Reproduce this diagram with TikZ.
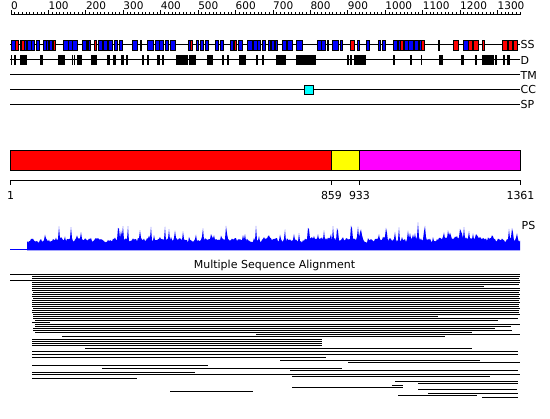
\documentclass[tikz,border=0pt]{standalone}
\usepackage{fontspec}
\setmainfont{DejaVu Sans}
\definecolor{ssblue}{RGB}{0,0,255}
\definecolor{ssred}{RGB}{255,0,0}
\definecolor{psblue}{RGB}{0,0,255}
\definecolor{dyellow}{RGB}{255,255,0}
\definecolor{dmag}{RGB}{255,0,255}
\definecolor{cccyan}{RGB}{0,255,255}
\begin{document}
\begin{tikzpicture}[x=1pt,y=-1pt,
  track/.style={line width=1pt,black},
  ssbox/.style={draw=black,line width=0.8pt},
  dbox/.style={fill=black},
  lbl/.style={font=\fontsize{11}{13}\selectfont,inner sep=0pt},
  num/.style={font=\fontsize{10.5}{12}\selectfont,inner sep=0pt},
  msa/.style={line width=1pt,black},
  seg/.style={draw=black,line width=1pt}]
\useasboundingbox (0,0) rectangle (550,419);
% ruler
\draw[track] (11,15) -- (520.5,15);
\foreach \i in {0,...,136}{
  \pgfmathsetmacro{\xx}{11+0.3742*10*\i}
  \draw[line width=0.8pt] (\xx,15) -- (\xx,12);
}
\foreach \n in {0,100,...,1300}{
  \pgfmathsetmacro{\xx}{11+0.3742*\n}
  \draw[line width=0.8pt] (\xx,15) -- (\xx,10);
  \node[num,anchor=base west] (r\n) at (\xx,9.5) {\n};
}
% tracks
\foreach \yy/\t in {45/SS,60/D,75/TM,90/CC,105/SP}{
  \draw[track] (10,\yy) -- (520,\yy);
  \node[lbl,anchor=west] (t\t) at (520.5,\yy) {\t};
}
% SS boxes
\foreach \a/\b/\c in {11/15/ssblue,15/18/ssred,20/21/ssblue,21/24/ssred,24/26/ssblue,27/31/ssblue,31/34/ssblue,36/39/ssblue,43/46/ssblue,46/48/ssblue,49/52/ssblue,53/55/ssred,63/68/ssblue,68/72/ssblue,72/77/ssblue,82/86/ssblue,86/87/ssblue,88/90/ssblue,94/96/ssred,98/102/ssblue,103/107/ssblue,108/112/ssblue,114/117/ssblue,119/122/ssblue,132/137/ssblue,140/141/ssblue,147/153/ssblue,155/159/ssblue,159/163/ssblue,165/168/ssblue,170/175/ssblue,188/190/ssblue,190/192/ssred,196/198/ssblue,200/203/ssblue,205/208/ssblue,215/218/ssblue,220/223/ssblue,230/233/ssblue,234/236/ssred,238/242/ssblue,247/252/ssblue,253/257/ssblue,257/260/ssblue,262/265/ssblue,268/270/ssblue,271/274/ssblue,275/277/ssblue,282/286/ssblue,287/292/ssblue,296/302/ssblue,317/321/ssblue,321/325/ssblue,327/328/ssblue,332/338/ssblue,340/342/ssblue,350/354/ssred,357/359/ssblue,366/369/ssblue,378/380/ssblue,382/385/ssblue,393/397/ssblue,398/400/ssblue,400/403/ssred,404/408/ssblue,408/413/ssblue,414/418/ssblue,419/421/ssblue,421/424/ssred,438/439/ssblue,453/458/ssred,463/468/ssblue,468/472/ssred,473/478/ssred,482/484/ssred,502/507/ssred,508/512/ssred,513/517/ssred}{
  \filldraw[ssbox,fill=\c] (\a,40) rectangle (\b,50);
}
% D boxes
\foreach \a/\b in {11/12,14/16,20/27,40/43,58/65,72/73,74/75,77/82,91/97,107/110,113/116,121/124,126/128,142/144,147/149,157/160,162/164,176/188,189/196,207/213,222/224,227/229,239/246,256/258,262/264,276/286,296/316,347/349,350/352,354/366,393/395,410/412,421/421.8,439/443,461/464,475/477,482/494,495/497,503/505,507/510}{
  \fill[dbox] (\a,55) rectangle (\b,65);
}
% CC box
\filldraw[draw=black,line width=0.8pt,fill=cccyan] (304.5,85.5) rectangle (313,94.5);
% domain bar
\filldraw[seg,fill=ssred] (10.5,150.5) rectangle (331.5,170.5);
\filldraw[seg,fill=dyellow] (331.5,150.5) rectangle (359.5,170.5);
\filldraw[seg,fill=dmag] (359.5,150.5) rectangle (520.5,170.5);
% axis
\draw[track] (10.5,180.5) -- (520.5,180.5);
\foreach \xx/\n in {10.5/1,331.5/859,359.5/933,520.5/1361}{
  \draw[track] (\xx,180.5) -- (\xx,185.5);
  \node[lbl,anchor=base] (a\n) at (\xx,200) {\n};
}
% PS
\node[lbl,anchor=base west] (ps) at (521.5,230) {PS};
\draw[line width=1pt,psblue] (10,250) -- (27,250);
\pgfmathsetseed{11}
\fill[psblue] (27,250.5) \foreach \x [remember=\s as \sp (initially 5), evaluate=\x as \s using {0.8*\sp+0.2*(4+6*rnd+10*rnd^4)}, evaluate=\x as \h using {\s+3*rnd+14*rnd^8}] in {27,28,...,520}{ -- (\x,{250-\h}) } -- (520,250.5) -- cycle;
% MSA
\node[lbl,anchor=base] (msat) at (274.5,269) {Multiple Sequence Alignment};
\foreach \y/\a/\b in {275/10/520,277/32/520,279/32/519,281/10/520,283/32/520,285/32/519,287/32/484,289/32/520,291/32/520,293/33/519,295/32/520,297/32/519,299/33/520,301/32/519,303/32/520,305/32/519,307/32/519,309/33/520,311/32/519,313/32/519,315/33/520,317/33/438,319/33/518,321/35/498,323/32/50,325/35/520,327/35/511,329/33/495,331/33/512,333/35/472,335/256/520,337/62/445,340/32/322,342/32/322,344/32/322,346/32/322,349/85/472,352/32/518,355/32/518,358/32/326,361/280/480,363/348/520,366/32/208,369/102/342,371/290/518,373/32/195,375/32/520,377/292/490,379/32/137,382/395/518,384/418/518,386/392/403,388/292/403,390/418/517,392/170/253,394/428/518,396/398/477,398/482/518}{
  \draw[msa] (\a,\y) -- (\b,\y);
}
\end{tikzpicture}
\end{document}
